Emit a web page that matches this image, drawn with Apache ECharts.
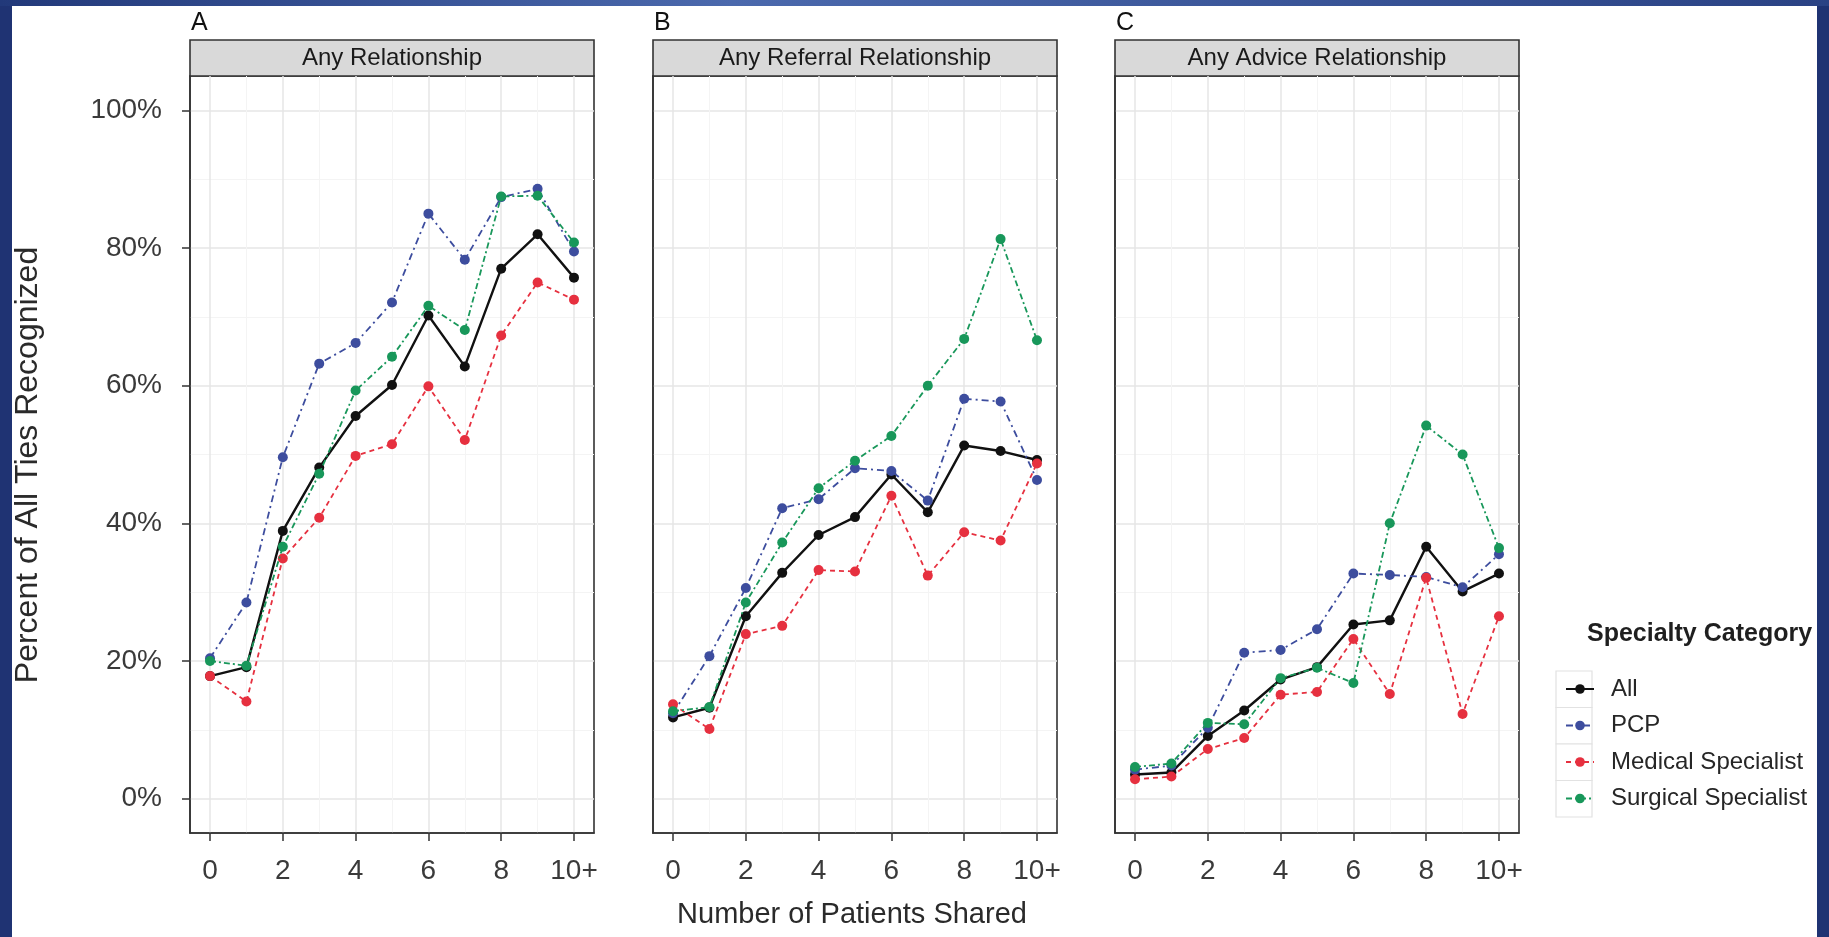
<!DOCTYPE html>
<html>
<head>
<meta charset="utf-8">
<title>Percent of All Ties Recognized</title>
<script src="https://cdn.jsdelivr.net/npm/echarts@6/dist/echarts.min.js"></script>
<style>
  html, body { margin: 0; padding: 0; background: #fff; }
  #chart { width: 1829px; height: 937px; }
</style>
</head>
<body>
<div id="chart"></div>
<script>
  // x positions (number of patients shared), 10 means "10+"
  const xValues = [0, 1, 2, 3, 4, 5, 6, 7, 8, 9, 10]
  const xTickValues = [0, 2, 4, 6, 8, 10]
  const xTickLabels = ['0', '2', '4', '6', '8', '10+']
  const xMinorValues = [1, 3, 5, 7, 9]
  const yTickValues = [0, 20, 40, 60, 80, 100]
  const yMinorValues = [10, 30, 50, 70, 90]

  const panelLetters = ['A', 'B', 'C']
  const panelTitles = ['Any Relationship', 'Any Referral Relationship', 'Any Advice Relationship']
  const seriesNames = ['All', 'PCP', 'Medical Specialist', 'Surgical Specialist']

  // percent of ties recognized
  const anyAll = [17.8, 19.1, 38.9, 48.1, 55.6, 60.1, 70.2, 62.8, 77.0, 82.0, 75.7]
  const anyPCP = [20.4, 28.5, 49.6, 63.2, 66.2, 72.1, 85.0, 78.3, 87.4, 88.6, 79.5]
  const anyMedical = [17.8, 14.1, 34.9, 40.8, 49.8, 51.5, 59.9, 52.1, 67.3, 75.0, 72.5]
  const anySurgical = [20.0, 19.3, 36.6, 47.2, 59.3, 64.2, 71.6, 68.1, 87.5, 87.6, 80.8]

  const referralAll = [11.8, 13.2, 26.5, 32.8, 38.3, 40.9, 47.1, 41.6, 51.3, 50.5, 49.2]
  const referralPCP = [12.4, 20.7, 30.6, 42.2, 43.5, 48.0, 47.6, 43.3, 58.1, 57.7, 46.3]
  const referralMedical = [13.7, 10.1, 23.9, 25.1, 33.2, 33.0, 44.0, 32.4, 38.7, 37.5, 48.7]
  const referralSurgical = [12.7, 13.3, 28.5, 37.2, 45.1, 49.1, 52.7, 60.0, 66.8, 81.3, 66.6]

  const adviceAll = [3.5, 3.8, 9.1, 12.8, 17.3, 19.1, 25.3, 25.9, 36.6, 30.1, 32.7]
  const advicePCP = [4.2, 4.8, 10.3, 21.2, 21.6, 24.6, 32.7, 32.5, 32.2, 30.7, 35.5]
  const adviceMedical = [2.8, 3.2, 7.2, 8.8, 15.1, 15.5, 23.2, 15.2, 32.1, 12.3, 26.5]
  const adviceSurgical = [4.6, 5.1, 11.0, 10.8, 17.5, 19.0, 16.8, 40.0, 54.2, 50.0, 36.4]

  const panelData = [
    [anyAll, anyPCP, anyMedical, anySurgical],
    [referralAll, referralPCP, referralMedical, referralSurgical],
    [adviceAll, advicePCP, adviceMedical, adviceSurgical]
  ]

  const font = '"Liberation Sans", Arial, Helvetica, sans-serif'
  const colors = ['#111111', '#3d4d9e', '#e6303f', '#18975a']
  const dashes = ['solid', [7, 4, 2, 4], [5, 4], [6, 3, 2, 3]]
  const widths = [2.4, 1.8, 1.8, 1.8]

  const panelLeft = [190, 653, 1115]
  const panelWidth = 404
  const panelTop = 76
  const panelHeight = 757

  let grids = []
  let xAxes = []
  let yAxes = []
  let series = []
  let graphics = []

  const frameLine = {show: true, onZero: false, lineStyle: {color: '#333', width: 1.6}}

  panelLeft.forEach((left, p) => {
    grids.push({
      left: left, top: panelTop, width: panelWidth, height: panelHeight,
      show: true, borderColor: '#333', borderWidth: 1.6, backgroundColor: '#fff'
    })
    // major x axis
    xAxes.push({
      type: 'value', gridIndex: p, min: -0.55, max: 10.55, position: 'bottom',
      axisLine: frameLine,
      axisTick: {show: true, inside: false, customValues: xTickValues, length: 8, lineStyle: {color: '#333', width: 1.5}},
      axisLabel: {
        show: true, customValues: xTickValues, margin: 24,
        fontSize: 28, color: '#3a3a3a', fontFamily: font,
        formatter: v => xTickLabels[xTickValues.indexOf(v)]
      },
      splitLine: {show: true, lineStyle: {color: '#e6e6e6', width: 1.5}}
    })
    // minor x grid
    xAxes.push({
      type: 'value', gridIndex: p, min: -0.55, max: 10.55, position: 'bottom',
      axisLine: {show: false, onZero: false},
      axisTick: {show: false, customValues: xMinorValues},
      axisLabel: {show: false, customValues: xMinorValues},
      splitLine: {show: true, lineStyle: {color: '#f4f4f4', width: 1}}
    })
    yAxes.push({
      type: 'value', gridIndex: p, min: -5, max: 105, position: 'left',
      axisLine: frameLine,
      axisTick: {show: p === 0, inside: false, customValues: yTickValues, length: 8, lineStyle: {color: '#333', width: 1.5}},
      axisLabel: {
        show: p === 0, customValues: yTickValues, margin: 28,
        fontSize: 28, color: '#3a3a3a', fontFamily: font,
        formatter: v => v + '%'
      },
      splitLine: {show: true, lineStyle: {color: '#e6e6e6', width: 1.5}}
    })
    yAxes.push({
      type: 'value', gridIndex: p, min: -5, max: 105, position: 'left',
      axisLine: {show: false, onZero: false},
      axisTick: {show: false, customValues: yMinorValues},
      axisLabel: {show: false, customValues: yMinorValues},
      splitLine: {show: true, lineStyle: {color: '#f4f4f4', width: 1}}
    })

    panelData[p].forEach((vals, s) => {
      series.push({
        name: seriesNames[s],
        type: 'line',
        xAxisIndex: p * 2,
        yAxisIndex: p * 2,
        data: xValues.map((x, i) => [x, vals[i]]),
        symbol: 'circle',
        symbolSize: 10,
        color: colors[s],
        itemStyle: {color: colors[s]},
        lineStyle: {color: colors[s], width: widths[s], type: dashes[s]},
        animation: false,
        z: 3 + s
      })
    })

    // facet strip
    graphics.push({
      type: 'rect', shape: {x: left, y: 40, width: panelWidth, height: 36},
      style: {fill: '#d9d9d9', stroke: '#333', lineWidth: 1.6}
    })
    graphics.push({
      type: 'text', x: left + panelWidth / 2, y: 58,
      style: {text: panelTitles[p], font: '24px ' + font, fill: '#1a1a1a', textAlign: 'center', textVerticalAlign: 'middle'}
    })
    graphics.push({
      type: 'text', x: left + 1, y: 23,
      style: {text: panelLetters[p], font: '25px ' + font, fill: '#111', textAlign: 'left', textVerticalAlign: 'middle'}
    })
  })

  // axis titles
  graphics.push({
    type: 'text', x: 852, y: 915,
    style: {text: 'Number of Patients Shared', font: '29px ' + font, fill: '#2a2a2a', textAlign: 'center', textVerticalAlign: 'middle'}
  })
  graphics.push({
    type: 'text', x: 28, y: 465, rotation: Math.PI / 2,
    style: {text: 'Percent of All Ties Recognized', font: '32px ' + font, fill: '#2a2a2a', textAlign: 'center', textVerticalAlign: 'middle'}
  })

  // legend title and key boxes
  graphics.push({
    type: 'text', x: 1587, y: 634,
    style: {text: 'Specialty Category', font: 'bold 25px ' + font, fill: '#1f1f1f', textAlign: 'left', textVerticalAlign: 'middle'}
  })
  seriesNames.forEach((n, i) => {
    graphics.push({
      type: 'rect', shape: {x: 1556, y: 671 + i * 36.5, width: 36, height: 36.5},
      style: {fill: '#fff', stroke: '#e2e2e2', lineWidth: 1.2}
    })
  })

  // slide frame
  graphics.push({
    type: 'rect', z: 100, shape: {x: 0, y: 0, width: 12, height: 937},
    style: {fill: '#1f3373'}
  })
  graphics.push({
    type: 'rect', z: 100, shape: {x: 1817, y: 0, width: 12, height: 937},
    style: {fill: '#1f3373'}
  })
  graphics.push({
    type: 'rect', z: 100, shape: {x: 0, y: 0, width: 1829, height: 6},
    style: {
      fill: new echarts.graphic.LinearGradient(0, 0, 1, 0, [
        {offset: 0, color: '#22397a'},
        {offset: 0.4, color: '#4b69ad'},
        {offset: 1, color: '#2a4284'}
      ])
    }
  })

  const chart = echarts.init(document.getElementById('chart'))
  chart.setOption({
    animation: false,
    backgroundColor: '#fff',
    grid: grids,
    xAxis: xAxes,
    yAxis: yAxes,
    legend: {
      data: seriesNames,
      orient: 'vertical',
      left: 1560,
      top: 669,
      itemWidth: 28,
      itemHeight: 12,
      itemGap: 6.5,
      selectedMode: false,
      textStyle: {fontSize: 24, lineHeight: 30, color: '#262626', fontFamily: font, padding: [0, 0, 0, 12]}
    },
    series: series,
    graphic: graphics
  })
</script>
</body>
</html>
